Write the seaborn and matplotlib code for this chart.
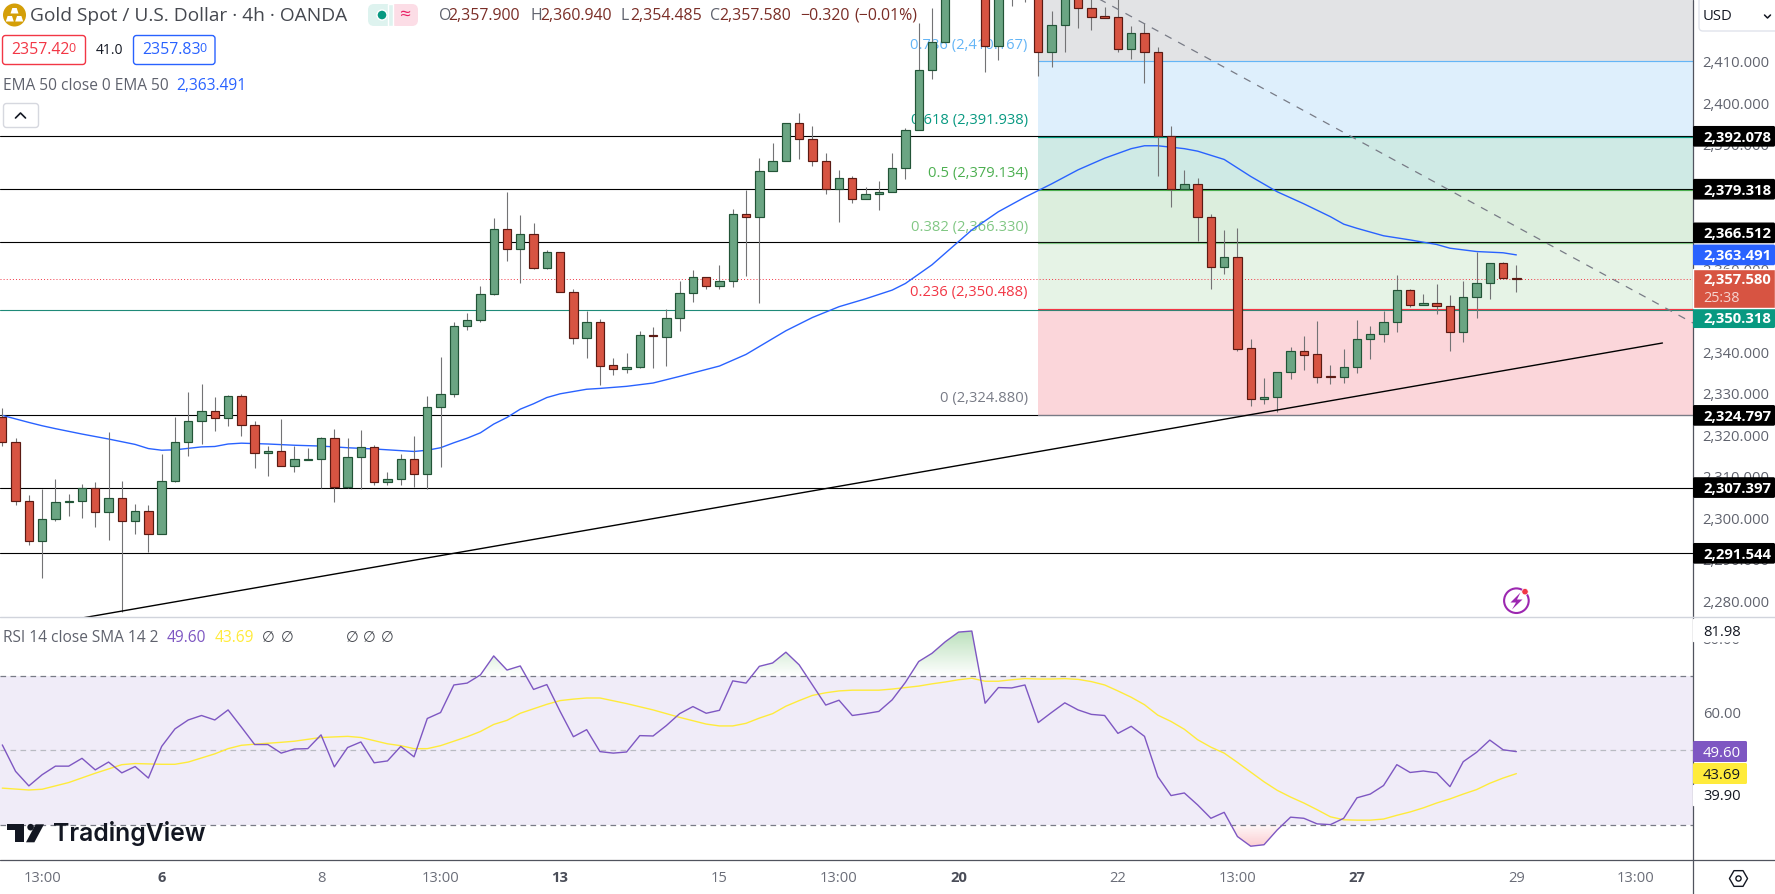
import numpy as np
import seaborn as sns
import matplotlib.pyplot as plt
from matplotlib.patches import Rectangle, FancyBboxPatch, Polygon, Circle
from matplotlib.path import Path

# =========================
#       CHART VALUES
# =========================
opens = [2324.3, 2318.3, 2304.1, 2294.4, 2299.7, 2303.8, 2304.1, 2307.4, 2301.4, 2304.8,
         2299.3, 2301.7, 2296.1, 2309.1, 2318.3, 2323.4, 2325.8, 2324.1, 2329.4, 2322.6,
         2315.7, 2316.1, 2312.5, 2314.1, 2314.2, 2319.3, 2307.5, 2314.7, 2317.1, 2308.7,
         2309.4, 2314.4, 2310.6, 2326.7, 2329.9, 2346.3, 2347.7, 2354.0, 2369.7, 2364.8,
         2368.5, 2360.4, 2364.1, 2354.5, 2343.4, 2347.2, 2336.9, 2336.1, 2336.4, 2344.1,
         2343.8, 2348.2, 2354.2, 2358.1, 2355.9, 2357.1, 2373.3, 2372.7, 2383.6, 2386.1,
         2395.2, 2391.4, 2386.2, 2379.3, 2382.0, 2376.9, 2378.1, 2378.7, 2384.4, 2393.5,
         2408.0, 2414.7, 2428.0, 2435.0, 2438.0, 2413.9, 2426.0, 2431.0, 2436.0, 2412.5,
         2418.8, 2426.0, 2422.9, 2421.0, 2420.8, 2413.1, 2416.9, 2412.5, 2392.1, 2379.3,
         2380.5, 2372.7, 2360.5, 2362.9, 2341.0, 2328.7, 2329.2, 2335.2, 2340.2, 2339.5,
         2334.3, 2334.0, 2336.4, 2343.1, 2344.3, 2347.2, 2355.0, 2351.3, 2351.8, 2351.2,
         2345.0, 2353.3, 2356.6, 2361.5, 2357.9]
highs = [2326.5, 2319.3, 2305.5, 2307.0, 2309.4, 2305.9, 2308.3, 2308.7, 2320.7, 2308.9,
         2303.4, 2303.1, 2315.4, 2324.3, 2330.4, 2332.3, 2329.2, 2329.7, 2329.9, 2323.4,
         2317.4, 2323.9, 2317.4, 2316.9, 2319.5, 2321.4, 2319.3, 2321.2, 2317.6, 2311.1,
         2315.4, 2319.8, 2329.4, 2338.8, 2347.2, 2349.4, 2356.0, 2372.3, 2378.7, 2373.1,
         2371.1, 2364.7, 2364.1, 2355.2, 2350.0, 2348.0, 2338.6, 2339.8, 2345.1, 2346.0,
         2350.4, 2357.2, 2359.9, 2358.1, 2361.1, 2374.6, 2379.1, 2386.8, 2390.4, 2395.2,
         2397.6, 2394.6, 2388.0, 2384.0, 2382.4, 2379.8, 2381.3, 2388.0, 2394.2, 2419.3,
         2422.9, 2430.0, 2436.0, 2440.0, 2439.0, 2428.0, 2433.0, 2438.0, 2437.0, 2422.3,
         2428.0, 2427.5, 2425.5, 2423.2, 2425.5, 2418.7, 2419.5, 2413.5, 2394.6, 2384.0,
         2382.0, 2373.3, 2369.5, 2370.0, 2343.1, 2333.7, 2335.2, 2341.4, 2343.9, 2347.5,
         2337.0, 2340.7, 2347.8, 2346.4, 2350.0, 2358.6, 2355.2, 2354.1, 2356.5, 2353.8,
         2357.2, 2364.1, 2361.5, 2361.7, 2360.94]
lows = [2317.5, 2303.3, 2293.6, 2285.7, 2299.4, 2300.6, 2300.1, 2298.0, 2294.8, 2277.5,
        2296.3, 2291.9, 2296.1, 2308.8, 2314.9, 2318.0, 2321.1, 2322.3, 2319.9, 2312.0,
        2310.3, 2312.5, 2311.2, 2314.1, 2307.2, 2303.8, 2307.2, 2307.1, 2308.1, 2308.1,
        2308.1, 2307.5, 2307.0, 2312.4, 2329.3, 2345.5, 2347.4, 2353.8, 2361.9, 2356.8,
        2360.0, 2360.0, 2354.5, 2341.9, 2338.7, 2332.1, 2334.6, 2335.1, 2336.3, 2336.3,
        2336.8, 2345.2, 2352.2, 2355.2, 2355.2, 2355.8, 2358.4, 2352.0, 2383.6, 2386.1,
        2386.7, 2384.9, 2378.2, 2371.3, 2376.1, 2376.9, 2374.2, 2378.7, 2381.9, 2393.5,
        2405.9, 2414.7, 2426.0, 2431.0, 2407.7, 2410.5, 2423.6, 2424.5, 2406.5, 2408.9,
        2412.5, 2418.3, 2417.6, 2420.7, 2412.5, 2410.8, 2405.0, 2382.4, 2375.1, 2379.3,
        2366.9, 2355.2, 2358.9, 2340.2, 2327.1, 2327.6, 2325.7, 2333.5, 2335.8, 2332.7,
        2332.3, 2332.5, 2334.9, 2338.5, 2342.6, 2345.0, 2351.0, 2351.3, 2349.2, 2340.4,
        2342.6, 2348.2, 2352.9, 2357.8, 2354.485]
closes = [2318.3, 2304.1, 2294.4, 2299.7, 2303.8, 2304.1, 2307.4, 2301.4, 2304.8, 2299.3,
          2301.7, 2296.1, 2309.1, 2318.3, 2323.4, 2325.8, 2324.1, 2329.4, 2322.6, 2315.7,
          2316.1, 2312.5, 2314.2, 2314.3, 2319.3, 2307.5, 2314.7, 2317.1, 2308.7, 2309.4,
          2314.4, 2310.6, 2326.7, 2329.9, 2346.3, 2347.8, 2354.0, 2369.7, 2364.8, 2368.5,
          2360.4, 2364.1, 2354.5, 2343.4, 2347.2, 2336.8, 2336.1, 2336.4, 2344.1, 2344.0,
          2348.2, 2354.2, 2358.1, 2355.9, 2357.1, 2373.3, 2372.7, 2383.6, 2386.1, 2395.2,
          2391.4, 2386.2, 2379.3, 2382.0, 2376.9, 2378.1, 2378.7, 2384.4, 2393.5, 2408.0,
          2414.7, 2428.0, 2435.0, 2438.0, 2413.9, 2426.0, 2431.0, 2436.0, 2412.5, 2418.8,
          2426.0, 2422.9, 2420.9, 2420.7, 2413.1, 2416.9, 2412.5, 2392.1, 2379.3, 2380.5,
          2372.7, 2360.5, 2362.9, 2340.9, 2328.7, 2329.2, 2335.2, 2340.2, 2339.4, 2334.1,
          2334.0, 2336.4, 2343.1, 2344.3, 2347.2, 2355.0, 2351.3, 2351.8, 2351.1, 2345.0,
          2353.3, 2356.6, 2361.5, 2357.8, 2357.58]

ema_bars = [0, 2, 3, 4, 6, 8, 10, 11, 12, 13, 15, 16, 17, 18, 20, 22, 24, 26, 28, 30, 31, 32, 33,
            34, 35, 36, 37, 38, 39, 40, 41, 42, 44, 45, 47, 49, 51, 54, 56, 57, 59, 61, 63, 65,
            67, 68, 70, 71, 72, 73, 75, 77, 79, 81, 83, 85, 86, 87, 89, 90, 92, 94, 96, 98, 100,
            101, 102, 104, 106, 108, 109, 111, 113, 114]
ema_values = [2324.8, 2323.1, 2322.3, 2321.6, 2320.3, 2319.1, 2317.8, 2316.8, 2316.4, 2316.5,
              2317.2, 2317.3, 2317.9, 2318.1, 2317.9, 2317.6, 2317.4, 2317.0, 2316.7, 2316.3,
              2316.1, 2316.4, 2317.0, 2318.2, 2319.3, 2320.6, 2322.7, 2324.3, 2326.3, 2327.6,
              2329.1, 2330.0, 2331.1, 2331.3, 2331.8, 2332.6, 2334.2, 2336.7, 2339.5, 2341.4,
              2345.2, 2348.4, 2351.0, 2352.9, 2355.0, 2356.6, 2361.1, 2363.9, 2366.7, 2369.5,
              2373.9, 2377.4, 2380.6, 2384.0, 2386.8, 2389.1, 2389.8, 2389.8, 2389.1, 2388.5,
              2386.5, 2382.4, 2378.7, 2375.8, 2372.7, 2370.9, 2369.9, 2368.1, 2367.1, 2366.0,
              2365.1, 2364.3, 2364.0, 2363.491]

rsi_values = [51.4, 44.3, 40.4, 43.4, 45.7, 45.7, 47.8, 44.7, 46.8, 43.9,
              45.6, 42.5, 51.0, 55.7, 58.1, 59.3, 58.1, 60.8, 56.2, 51.5,
              51.5, 49.2, 50.3, 50.4, 54.1, 45.5, 50.7, 52.2, 46.6, 47.1,
              51.0, 48.2, 58.5, 60.1, 67.5, 68.0, 70.2, 75.3, 71.5, 72.6,
              66.3, 67.6, 60.4, 53.6, 55.5, 49.6, 49.2, 49.5, 53.9, 53.8,
              56.6, 59.8, 61.7, 59.9, 60.7, 68.6, 68.0, 72.5, 73.4, 76.3,
              72.9, 67.5, 62.1, 63.4, 59.3, 59.8, 60.4, 63.5, 68.2, 73.8,
              76.0, 79.1, 81.7, 81.98, 62.6, 66.8, 66.7, 67.5, 57.4, 60.1,
              62.7, 60.8, 59.6, 59.3, 54.5, 56.4, 53.7, 42.9, 37.8, 38.5,
              35.3, 31.7, 33.3, 26.8, 24.2, 24.6, 28.6, 32.0, 31.7, 30.2,
              30.0, 31.7, 37.2, 38.2, 40.5, 46.1, 44.0, 44.4, 43.9, 40.2,
              46.9, 49.4, 52.7, 50.1, 49.6]

sma_bars = [0, 2, 3, 5, 7, 9, 10, 12, 13, 14, 16, 17, 18, 19, 21, 22, 24, 26, 27, 29, 30, 31, 32,
            33, 35, 36, 37, 38, 39, 41, 42, 43, 44, 45, 47, 49, 51, 53, 54, 55, 56, 57, 58, 59,
            60, 61, 62, 63, 64, 66, 67, 68, 69, 70, 71, 72, 73, 74, 75, 76, 77, 78, 79, 80, 81,
            82, 83, 84, 85, 86, 87, 88, 89, 90, 91, 92, 93, 94, 95, 96, 97, 98, 99, 100, 101,
            102, 103, 104, 105, 106, 107, 108, 109, 110, 111, 112, 113, 114]
sma_values = [39.8, 39.3, 39.5, 41.3, 43.8, 46.1, 46.4, 46.2, 46.2, 46.8, 49.0, 50.4, 51.3, 51.6,
              52.1, 52.4, 53.4, 53.7, 53.4, 51.7, 51.2, 50.4, 50.4, 51.2, 53.6, 55.0, 56.9, 58.0,
              59.9, 62.3, 63.3, 63.7, 64.0, 64.0, 62.5, 60.8, 58.8, 57.0, 56.5, 56.5, 57.2, 58.6,
              59.8, 61.8, 63.3, 64.7, 65.4, 65.9, 66.1, 66.1, 66.4, 66.8, 67.2, 67.8, 68.3, 68.9,
              69.3, 68.5, 68.5, 68.9, 69.2, 69.1, 69.1, 69.2, 69.0, 68.4, 67.5, 65.9, 64.2, 62.2,
              59.4, 57.7, 55.6, 52.8, 50.8, 49.2, 46.7, 44.1, 41.5, 39.2, 37.4, 35.8, 34.0, 32.1,
              31.3, 31.2, 31.2, 31.5, 32.5, 33.4, 34.5, 35.8, 36.9, 38.2, 39.4, 41.1, 42.5, 43.69]

level_prices = [2392.078, 2379.318, 2366.512, 2324.797, 2307.397, 2291.544]
level_tags = ["2,392.078", "2,379.318", "2,366.512", "2,324.797", "2,307.397", "2,291.544"]
support_price = 2350.318
last_price = 2357.58
ema_last = 2363.491

fib_start = 78
fib_ratios = ["1", "0.786", "0.618", "0.5", "0.382", "0.236", "0"]
fib_prices = [2433.38, 2410.167, 2391.938, 2379.134, 2366.330, 2350.488, 2324.880]
fib_lines = [None, "#64b5f6", "#089981", "#4caf50", "#81c784", "#f23645", "#787b86"]
fib_fills = ["#e2e3e5", "#deeffc", "#cfeae5", "#dceedd", "#e6f3e6", "#fbd6da"]

trend_bars = [6, 125]
trend_prices = [2275.95, 2342.25]
dash_bars = [82, 127.3]
dash_prices = [2426.2, 2347.07]

time_bars = [3, 12, 24, 33, 42, 54, 63, 72, 84, 93, 102, 114, 123]
time_labels = ["13:00", "6", "8", "13:00", "13", "15", "13:00", "20", "22", "13:00", "27", "29", "13:00"]
bold_labels = ["6", "13", "20", "27"]

price_ticks = list(range(2280, 2420, 10))
rsi_ticks = [60, 80]

# =========================
#        FIGURE SETUP
# =========================
W, H = 1775, 894
AXIS_X, MAIN_BOTTOM, RSI_BOTTOM = 1693, 617.3, 860

sns.set_theme(style="white")
plt.rcParams["font.family"] = ["Open Sans", "DejaVu Sans"]

fig = plt.figure(figsize=(W / 100, H / 100), dpi=100, facecolor="white")
ax = fig.add_axes([0, 1 - MAIN_BOTTOM / H, AXIS_X / W, MAIN_BOTTOM / H])
ax_rsi = fig.add_axes([0, 1 - RSI_BOTTOM / H, AXIS_X / W, (RSI_BOTTOM - MAIN_BOTTOM - 1) / H])
over = fig.add_axes([0, 0, 1, 1], zorder=10)
over.set_xlim(0, W)
over.set_ylim(H, 0)
over.axis("off")
over.patch.set_alpha(0)

XLIM = (-0.173, 127.3)
GREY_TEXT = "#5f626d"


# =========================
#        PRICE PANE
# =========================
def draw_price_pane():
    bars = np.arange(len(opens))
    o, h, l, c = map(np.array, (opens, highs, lows, closes))
    up = c >= o

    for i, fill in enumerate(fib_fills):
        ax.fill_between([fib_start, XLIM[1]], fib_prices[i + 1], fib_prices[i],
                        color=fill, linewidth=0, zorder=1)

    for price in level_prices:
        ax.axhline(price, color="#000000", linewidth=0.8, zorder=2)
    ax.axhline(support_price, color="#1f8a78", linewidth=0.8, zorder=2)
    ax.axhline(last_price, color="#f23645", linewidth=0.7, linestyle=(0, (1, 2.2)), zorder=2)

    for ratio, price, colour in zip(fib_ratios[1:], fib_prices[1:], fib_lines[1:]):
        ax.plot([fib_start, XLIM[1]], [price, price], color=colour, linewidth=0.85, zorder=2.2)
        ax.annotate(f"{ratio} ({price:,.3f})", xy=(fib_start, price), xytext=(-7.5, 11.6),
                    textcoords="offset points", ha="right", va="center", fontsize=10.6,
                    color=colour, zorder=2.4)

    sns.lineplot(x=ema_bars, y=ema_values, ax=ax, color="#2962ff", linewidth=1.0,
                 estimator=None, sort=False, zorder=3)

    ax.vlines(bars, l, h, color="#737375", linewidth=0.8, zorder=3.5)
    ax.bar(bars[up], (c - o)[up], bottom=o[up], width=0.63, color="#6ba583",
           edgecolor="#225437", linewidth=0.85, zorder=4)
    ax.bar(bars[~up], (o - c)[~up], bottom=c[~up], width=0.63, color="#d75442",
           edgecolor="#5b1a13", linewidth=0.85, zorder=4)

    ax.plot(trend_bars, trend_prices, color="#000000", linewidth=1.0, zorder=5)
    ax.plot(dash_bars, dash_prices, color="#787b86", linewidth=0.9, linestyle=(0, (6, 6)), zorder=5)

    ax.set_xlim(*XLIM)
    ax.set_ylim(2276.12, 2424.94)
    ax.set_xticks([])
    ax.yaxis.tick_right()
    ax.set_yticks(price_ticks)
    ax.set_yticklabels([f"{p:,.3f}" for p in price_ticks], va="center_baseline")
    ax.tick_params(axis="y", length=0, pad=7, labelsize=10.6, labelcolor=GREY_TEXT)
    sns.despine(ax=ax, left=True, right=True, top=True, bottom=True)


# =========================
#         RSI PANE
# =========================
def gradient_fill(y_low, y_high, rgb, alpha_low, alpha_high, poly):
    # vertical gradient clipped to the area between the RSI line and its band
    ramp = np.zeros((256, 1, 4))
    ramp[..., :3] = rgb
    ramp[:, 0, 3] = np.linspace(alpha_high, alpha_low, 256)
    im = ax_rsi.imshow(ramp, extent=(XLIM[0], XLIM[1], y_low, y_high), aspect="auto", zorder=1.5)
    im.set_clip_path(Path.make_compound_path(*poly.get_paths()), ax_rsi.transData)


def draw_rsi_pane():
    bars = np.arange(len(rsi_values))
    rsi = np.array(rsi_values)

    ax_rsi.axhspan(30, 70, color="#f0ecf8", linewidth=0, zorder=1)
    ax_rsi.axhline(70, color="#787b86", linewidth=0.9, linestyle=(0, (4.5, 3.5)), zorder=2)
    ax_rsi.axhline(50, color="#b9bbc2", linewidth=0.9, linestyle=(0, (4.5, 3.5)), zorder=2)
    ax_rsi.axhline(30, color="#787b86", linewidth=0.9, linestyle=(0, (4.5, 3.5)), zorder=2)

    top = ax_rsi.fill_between(bars, rsi, 70, where=rsi > 70, interpolate=True, color="none")
    low = ax_rsi.fill_between(bars, rsi, 30, where=rsi < 30, interpolate=True, color="none")
    gradient_fill(70, 82, (0.30, 0.69, 0.31), 0.0, 0.38, top)
    gradient_fill(24, 30, (0.95, 0.21, 0.27), 0.25, 0.03, low)

    sns.lineplot(x=sma_bars, y=sma_values, ax=ax_rsi, color="#ffeb3b", linewidth=1.0,
                 estimator=None, sort=False, zorder=3)
    sns.lineplot(x=bars, y=rsi, ax=ax_rsi, color="#7e57c2", linewidth=1.0,
                 estimator=None, sort=False, zorder=4)

    ax_rsi.set_xlim(*XLIM)
    ax_rsi.set_ylim(20.5, 85.4)
    ax_rsi.yaxis.tick_right()
    ax_rsi.set_yticks(rsi_ticks)
    ax_rsi.set_yticklabels([f"{v:.2f}" for v in rsi_ticks], va="center_baseline")
    ax_rsi.tick_params(axis="y", length=0, pad=7, labelsize=10.6, labelcolor=GREY_TEXT)
    ax_rsi.set_xticks(time_bars)
    ax_rsi.set_xticklabels(time_labels)
    ax_rsi.tick_params(axis="x", length=0, pad=8, labelsize=10.6, labelcolor="#6a6d78")
    for tick in ax_rsi.get_xticklabels():
        if tick.get_text() in bold_labels:
            tick.set_fontweight("bold")
            tick.set_color("#4a4d58")
    sns.despine(ax=ax_rsi, left=True, right=True, top=True, bottom=True)


# =========================
#   OVERLAY (tags, header)
# =========================
def pane_y(axes, value):
    return H - axes.transData.transform((0, value))[1]


def tag(y, height, colour, label, text_colour="white", width=W - AXIS_X, weight="bold"):
    over.add_patch(FancyBboxPatch((AXIS_X, y - height / 2), width, height,
                                  boxstyle="round,pad=0,rounding_size=1.5", facecolor=colour,
                                  edgecolor="none", zorder=3))
    over.text(AXIS_X + 10, y, label, color=text_colour, fontsize=10.7, fontweight=weight,
              va="center_baseline", ha="left", zorder=4)


def box(x0, y0, x1, y1, edge, face="white", rounding=3, lw=1.0, z=2):
    over.add_patch(FancyBboxPatch((x0, y0), x1 - x0, y1 - y0,
                                  boxstyle=f"round,pad=0,rounding_size={rounding}",
                                  facecolor=face, edgecolor=edge, linewidth=lw, zorder=z))


def draw_axis_furniture():
    over.plot([AXIS_X, AXIS_X], [0, H], color="#50535e", linewidth=0.9, zorder=1)
    over.plot([0, W], [RSI_BOTTOM, RSI_BOTTOM], color="#50535e", linewidth=0.9, zorder=1)
    over.plot([0, W], [MAIN_BOTTOM, MAIN_BOTTOM], color="#d1d4dc", linewidth=1.0, zorder=1)

    for price, label in zip(level_prices, level_tags):
        # this tag gets pushed up by the EMA tag right under it
        nudge = -9.5 if label == "2,366.512" else 0
        tag(pane_y(ax, price) + nudge, 20.7, "#000000", label)
    tag(pane_y(ax, ema_last), 20.7, "#2962ff", "2,363.491")
    tag(pane_y(ax, support_price) + 8, 21, "#089981", "2,350.318")

    # last price tag has the countdown under it
    over.add_patch(Rectangle((AXIS_X, 269), W - AXIS_X, 39, facecolor="#d75442", zorder=3))
    over.text(AXIS_X + 10, 279, "2,357.580", color="white", fontsize=10.7, fontweight="bold",
              va="center_baseline", zorder=4)
    over.text(AXIS_X + 10, 296.5, "25:38", color="#f6d5d0", fontsize=10.4, va="center_baseline", zorder=4)

    # RSI side labels
    over.add_patch(Rectangle((AXIS_X - 0.5, 618.5), 56, 22, facecolor="white", zorder=2))
    over.text(AXIS_X + 10, 630.7, "81.98", color="#131722", fontsize=10.6, va="center_baseline", zorder=4)
    over.add_patch(Rectangle((AXIS_X - 0.5, 785), 56, 20, facecolor="white", zorder=2))
    over.text(AXIS_X + 10, 794.5, "39.90", color="#131722", fontsize=10.6, va="center_baseline", zorder=4)
    tag(751.5, 21, "#7e57c2", "49.60", width=54, weight="normal")
    tag(773.5, 21, "#ffeb3b", "43.69", text_colour="#131722", width=54, weight="normal")

    # currency selector and settings hexagon
    box(1699, -3, W + 4, 31, "#e0e3eb", rounding=4)
    over.text(1703, 16.5, "USD", color="#131722", fontsize=10.6, va="center")
    over.plot([1764.5, 1767.5, 1770.5], [15, 18, 15], color="#131722", linewidth=1.1)
    over.scatter([1737.5], [877.7], marker="H", s=170, facecolor="white", edgecolor="#131722",
                 linewidth=1.0, zorder=3)
    over.scatter([1737.5], [877.7], marker="o", s=14, facecolor="white", edgecolor="#131722",
                 linewidth=1.0, zorder=4)


def draw_header():
    # symbol badge
    over.add_patch(Circle((14.5, 15), 11.5, facecolor="#d49f09", edgecolor="none", zorder=2))
    for cx, cy in [(14.5, 10.5), (9.8, 18.5), (19.2, 18.5)]:
        over.add_patch(Polygon([(cx - 4, cy + 3), (cx - 2.2, cy - 2.5), (cx + 2.2, cy - 2.5), (cx + 4, cy + 3)],
                               facecolor="white", edgecolor="none", zorder=3))
    over.text(30.5, 16, "Gold Spot / U.S. Dollar · 4h · OANDA", color="#45484f", fontsize=13.8,
              va="center", zorder=3)

    # market status pills
    box(368, 4, 396, 26, "none", face="#def3ef", rounding=6)
    box(390, 4, 418, 26, "none", face="#fcdde6", rounding=6)
    over.add_patch(Rectangle((388, 4), 5, 22, facecolor="#def3ef", zorder=2.1))
    over.add_patch(Circle((382, 15), 5, facecolor="#089981", zorder=3))
    over.text(405, 14.5, "≈", color="#e91e63", fontsize=14, ha="center", va="center", zorder=3)

    # OHLC readout
    dark = "#7a2d26"
    for x, letter, value in [(438.5, "O", "2,357.900"), (530.8, "H", "2,360.940"),
                             (621, "L", "2,354.485"), (709.8, "C", "2,357.580")]:
        over.text(x, 16, letter, color="#5f626d", fontsize=11.4, va="center", zorder=3)
        over.text(x + 9.5, 16, value, color=dark, fontsize=11.4, va="center", zorder=3)
    over.text(800, 16, "−0.320", color=dark, fontsize=11.4, va="center", zorder=3)
    over.text(854.5, 16, "(−0.01%)", color=dark, fontsize=11.4, va="center", zorder=3)

    # bid / ask boxes
    box(2.5, 35.5, 85.5, 64.5, "#f23645")
    over.text(11, 50.5, "2357.42", color="#f23645", fontsize=11.4, va="center", zorder=3)
    over.text(68.5, 49, "0", color="#f23645", fontsize=9, va="center", zorder=3)
    over.text(95.7, 50.5, "41.0", color="#131722", fontsize=10, va="center", zorder=3)
    box(133.5, 35.5, 215, 64.5, "#2962ff")
    over.text(142, 50.5, "2357.83", color="#2962ff", fontsize=11.4, va="center", zorder=3)
    over.text(199.5, 49, "0", color="#2962ff", fontsize=9, va="center", zorder=3)

    # indicator legends
    over.text(3, 85.7, "EMA 50 close 0 EMA 50", color="#5f626d", fontsize=11.2, va="center", zorder=3)
    over.text(176, 85.7, "2,363.491", color="#2962ff", fontsize=11.2, va="center", zorder=3)
    box(3.5, 103.5, 38.5, 127.5, "#d6d8df")
    over.plot([15.5, 20.5, 25.5], [118, 113, 118], color="#131722", linewidth=1.2, zorder=3)

    over.text(3, 638.3, "RSI 14 close SMA 14 2", color="#5f626d", fontsize=11.2, va="center", zorder=3)
    over.text(166.8, 638.3, "49.60", color="#7e57c2", fontsize=11.2, va="center", zorder=3)
    over.text(214.3, 638.3, "43.69", color="#ffeb3b", fontsize=11.2, va="center", zorder=3)
    for x in (262, 280.5, 345.5, 362.5, 381):
        over.text(x, 638.3, "∅", color="#45484f", fontsize=10.5, va="center", zorder=3)


def draw_logos():
    ink = "#131722"
    over.add_patch(Polygon([(7, 824.3), (23.7, 824.3), (23.7, 842.3), (15.3, 842.3), (15.3, 830), (7, 830)],
                           facecolor=ink, edgecolor="none", zorder=3))
    over.add_patch(Circle((30.6, 827.2), 3.3, facecolor=ink, edgecolor="none", zorder=3))
    over.add_patch(Polygon([(35.6, 824.3), (44, 824.3), (34.4, 842.3), (26, 842.3)],
                           facecolor=ink, edgecolor="none", zorder=3))
    over.text(53.5, 834, "TradingView", color=ink, fontsize=17.8, fontweight="semibold",
              family=["Inter", "DejaVu Sans"], va="center", zorder=3)

    # lightning badge
    purple = "#9c27b0"
    over.add_patch(Circle((1516.4, 600.7), 12.3, facecolor="white", edgecolor=purple, linewidth=1.5, zorder=3))
    over.add_patch(Polygon([(1520.5, 592.5), (1510.5, 602.5), (1516, 602.5), (1512, 609.5), (1522.5, 599.5), (1517, 599.5)],
                           facecolor=purple, edgecolor="none", zorder=4))
    over.add_patch(Circle((1525, 591.7), 3.2, facecolor="#f23645", edgecolor="white", linewidth=0.5, zorder=5))


draw_price_pane()
draw_rsi_pane()
draw_axis_furniture()
draw_header()
draw_logos()

fig.savefig("out.png", dpi=100)
